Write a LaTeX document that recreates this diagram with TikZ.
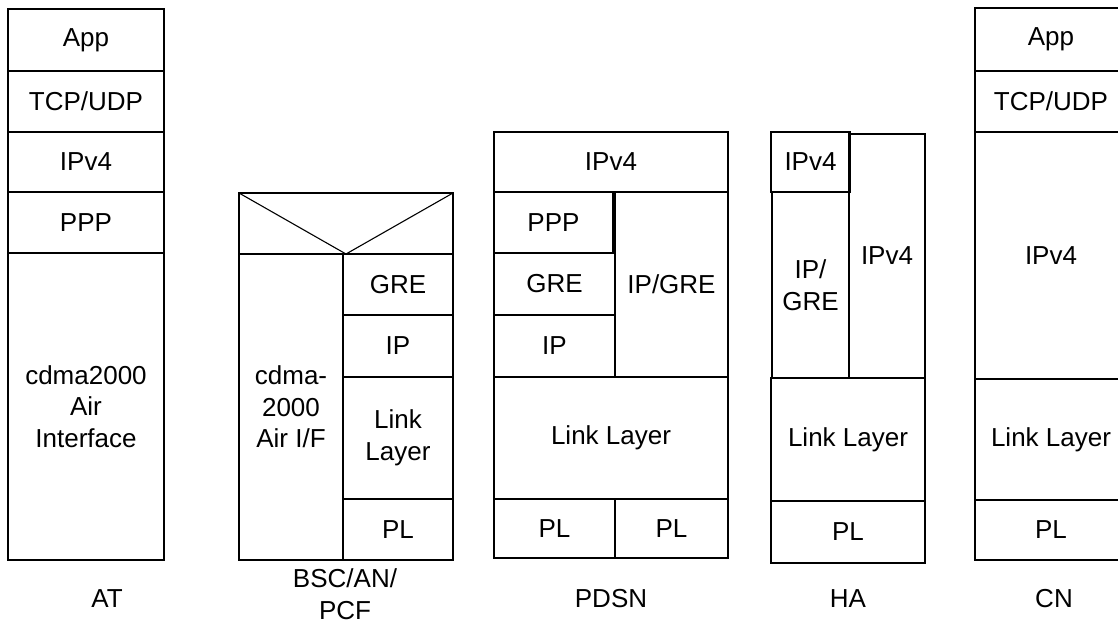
\documentclass[tikz,border=0pt]{standalone}
\usepackage{fontspec}
\setmainfont{Liberation Sans}
\newcommand\layer[6]{%
  \node[cell, minimum width={(#4-#2)*1pt}, minimum height={(#5-#3)*1pt}]
    (#1) at ({(#2+#4)/2},{(#3+#5)/2}) {#6};}
\tikzset{
  cell/.style={draw=black, line width=1.1pt, inner sep=0pt, outer sep=0pt, align=center,
    font=\fontsize{26}{31.5}\selectfont},
  stacklabel/.style={inner sep=0pt, align=center, font=\fontsize{26}{32}\selectfont}
}
\begin{document}
\begin{tikzpicture}[x=1pt,y=-1pt]
\useasboundingbox (0,0) rectangle (1118,626);
\fill[white] (0,0) rectangle (1118,626);
% AT
\layer{atapp}{8}{9}{164}{71}{App}
\layer{attcp}{8}{71}{164}{132}{TCP/UDP}
\layer{atip}{8}{132}{164}{192}{IPv4}
\layer{atppp}{8}{192}{164}{253}{PPP}
\layer{atair}{8}{253}{164}{560}{cdma2000\\Air\\Interface}
\node[stacklabel] (atlab) at (107,599) {AT};
% BSC/AN/PCF
\layer{bsctop}{239}{193}{453}{254}{}
\draw[line width=1.1pt] (bsctop.north west) -- (bsctop.south) -- (bsctop.north east);
\layer{bscair}{239}{254}{343}{560}{cdma-\\2000\\Air I/F}
\layer{bscgre}{343}{254}{453}{315}{GRE}
\layer{bscip}{343}{315}{453}{377}{IP}
\layer{bsclink}{343}{377}{453}{499}{Link\\Layer}
\layer{bscpl}{343}{499}{453}{560}{PL}
\node[stacklabel] (bsclab) at (345,594) {BSC/AN/\\PCF};
% PDSN
\layer{pdip}{494}{132}{728}{192}{IPv4}
\layer{pdppp}{494}{192}{613}{253}{PPP}
\layer{pdgre}{494}{253}{615}{315}{GRE}
\layer{pdipl}{494}{315}{615}{377}{IP}
\layer{pdipgre}{615}{192}{728}{377}{IP/GRE}
\layer{pdlink}{494}{377}{728}{499}{Link Layer}
\layer{pdpl1}{494}{499}{615}{558}{PL}
\layer{pdpl2}{615}{499}{728}{558}{PL}
\node[stacklabel] (pdlab) at (611,599) {PDSN};
% HA
\layer{haip}{771}{132}{850}{192}{IPv4}
\layer{haipgre}{772}{192}{849}{378}{IP/\\GRE}
\layer{haip2}{849}{134}{925}{378}{IPv4}
\layer{halink}{771}{378}{925}{501}{Link Layer}
\layer{hapl}{771}{501}{925}{563}{PL}
\node[stacklabel] (halab) at (848,599) {HA};
% CN
\layer{cnapp}{975}{8}{1127}{71}{App}
\layer{cntcp}{975}{71}{1127}{132}{TCP/UDP}
\layer{cnip}{975}{132}{1127}{379}{IPv4}
\layer{cnlink}{975}{379}{1127}{500}{Link Layer}
\layer{cnpl}{975}{500}{1127}{560}{PL}
\node[stacklabel] (cnlab) at (1054,599) {CN};
\end{tikzpicture}
\end{document}
